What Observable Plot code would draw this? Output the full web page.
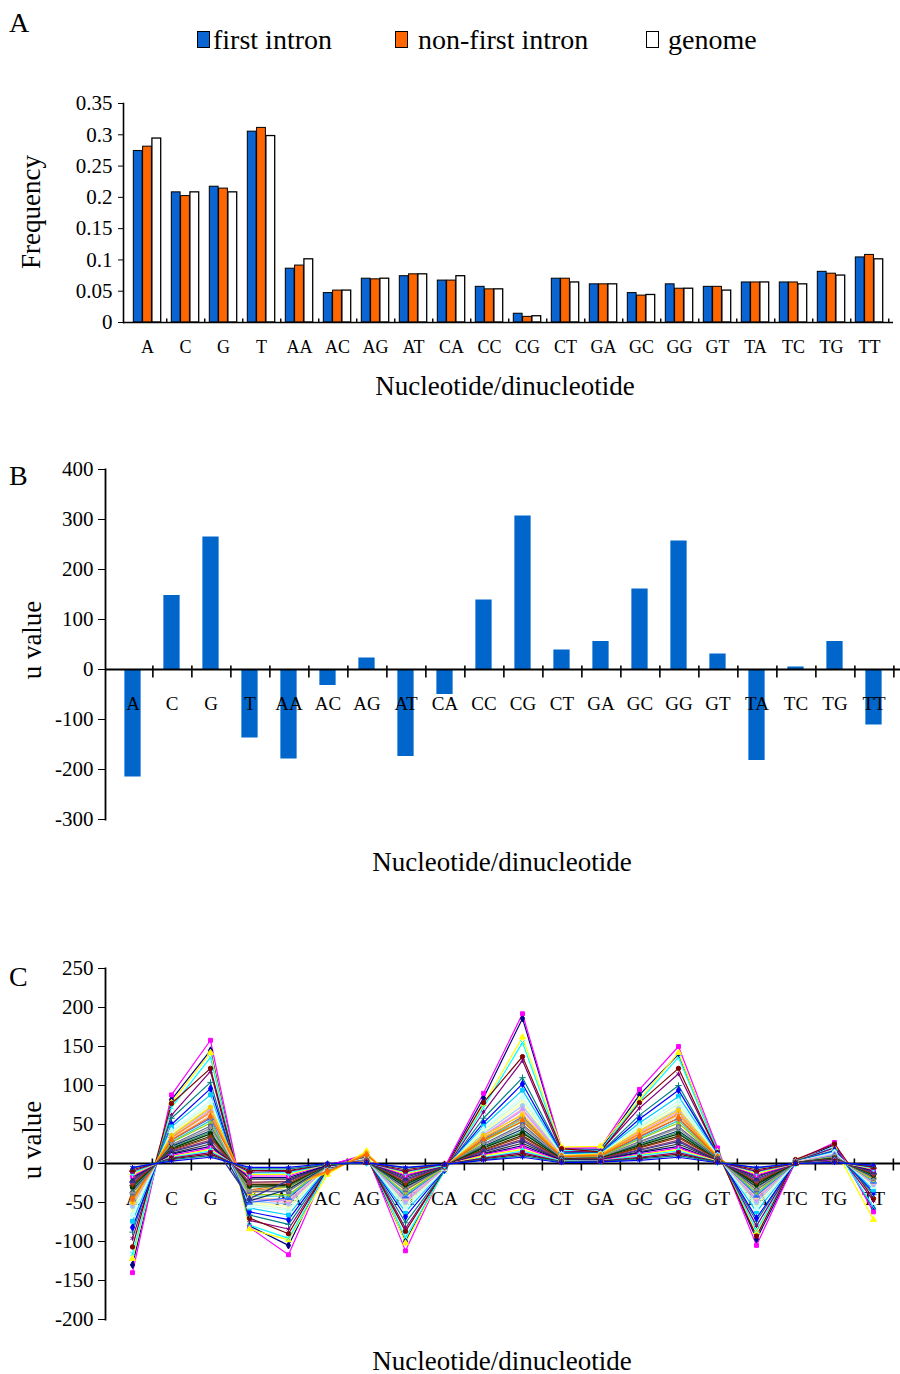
<!DOCTYPE html>
<html><head><meta charset="utf-8">
<script src="https://cdn.jsdelivr.net/npm/d3@7"></script>
<script src="https://cdn.jsdelivr.net/npm/@observablehq/plot@0.6"></script>
<style>
body{margin:0;background:#fff;}
#root{position:relative;width:900px;height:1374px;font-family:'Liberation Serif','Times New Roman',serif;color:#000;overflow:hidden;background:#fff;}
.abs{position:absolute;white-space:nowrap;line-height:1;}
.c{transform:translate(-50%,-50%);}
.r{transform:translate(-50%,-50%) rotate(-90deg);}
.panel{position:absolute;left:0;}
.sw{position:absolute;width:13px;height:17px;border:1.5px solid #000;box-sizing:border-box;}
</style></head><body><div id="root"></div><script>
// ---------- data ----------
const categories = ["A","C","G","T","AA","AC","AG","AT","CA","CC","CG","CT","GA","GC","GG","GT","TA","TC","TG","TT"];
const seriesA = ["first intron","non-first intron","genome"];
const freqFirst    = [0.274,0.208,0.217,0.305,0.086,0.047,0.070,0.074,0.067,0.057,0.014,0.070,0.061,0.047,0.061,0.057,0.064,0.064,0.081,0.104];
const freqNonFirst = [0.281,0.202,0.214,0.311,0.091,0.051,0.069,0.077,0.067,0.053,0.009,0.070,0.061,0.043,0.054,0.057,0.064,0.064,0.078,0.108];
const freqGenome   = [0.294,0.208,0.208,0.298,0.101,0.051,0.070,0.077,0.074,0.053,0.010,0.064,0.061,0.044,0.054,0.051,0.064,0.061,0.075,0.101];
const ticksA = [0,0.05,0.1,0.15,0.2,0.25,0.3,0.35];

const uValues = [-215,148,265,-137,-179,-32,23,-174,-50,139,307,39,56,161,257,31,-182,5,56,-111];
const ticksB = [-300,-200,-100,0,100,200,300,400];

const ticksC = [-200,-150,-100,-50,0,50,100,150,200,250];
const c01 = [-130,82,145,-80,-105,-2,10,-100,-6,84,186,19,18,88,140,17,-97,2,24,-58];
const c02 = [-140,88,158,-82,-117,-3,12,-112,-5,90,192,20,20,95,150,20,-105,3,27,-62];
const c03 = [-122,78,142,-84,-98,-14,16,-102,-8,76,162,21,22,82,142,15,-88,4,20,-72];
const c04 = [-116,72,136,-79,-96,-9,11,-95,-10,72,155,17,17,80,136,16,-86,3,21,-56];
const c05 = [-96,62,118,-73,-84,-7,9,-83,-9,66,132,15,16,71,115,14,-80,3,20,-48];
const c06 = [-107,77,122,-70,-90,-6,8,-87,-8,78,137,19,15,78,122,14,-93,5,25,-45];
const c07 = [-88,58,104,-66,-78,-6,8,-76,-9,58,110,14,14,62,100,12,-74,3,17,-40];
const c08 = [-82,50,96,-62,-72,-5,7,-68,-8,52,102,13,13,57,94,12,-70,2,16,-37];
const c09 = [-74,47,88,-57,-66,-5,6,-62,-7,48,94,12,13,52,86,11,-62,2,15,-34];
const c10 = [-66,42,80,-55,-60,-4,6,-58,-7,44,86,11,12,48,80,10,-58,2,14,-30];
const c11 = [-62,40,76,-52,-58,-4,6,-55,-6,42,82,11,12,46,76,10,-55,2,13,-29];
const c12 = [-58,38,73,-50,-55,-5,7,-52,-6,40,78,10,11,44,72,10,-52,2,12,-28];
const c13 = [-55,36,70,-48,-52,-4,5,-50,-6,38,74,10,11,42,70,9,-50,2,12,-27];
const c14 = [-52,34,68,-46,-50,-4,5,-48,-6,36,70,10,10,40,66,9,-47,2,11,-26];
const c15 = [-50,33,65,-45,-48,-4,5,-46,-5,35,68,9,10,38,64,9,-45,2,11,-25];
const c16 = [-48,31,62,-44,-46,-4,5,-44,-5,33,64,9,10,36,61,8,-43,2,10,-24];
const c17 = [-46,30,58,-50,-44,-3,5,-42,-5,31,60,9,9,34,58,8,-41,1,10,-23];
const c18 = [-44,28,55,-42,-42,-3,4,-40,-5,30,57,8,9,32,55,8,-39,1,9,-22];
const c19 = [-42,27,52,-40,-40,-3,4,-38,-5,28,54,8,9,31,52,7,-37,1,9,-21];
const c20 = [-50,36,72,-38,-30,-12,14,-35,-4,36,62,10,12,42,68,9,-30,1,8,-20];
const c21 = [-48,33,66,-36,-28,-11,12,-32,-4,33,58,9,11,38,63,8,-28,1,8,-18];
const c22 = [-45,30,60,-34,-26,-10,11,-30,-4,30,54,9,10,35,58,8,-26,1,7,-17];
const c23 = [-38,24,48,-36,-36,-3,4,-34,-4,25,50,7,8,28,47,7,-34,1,8,-19];
const c24 = [-36,23,45,-34,-34,-3,4,-32,-4,24,47,7,8,27,45,6,-32,1,8,-18];
const c25 = [-34,22,42,-48,-33,-3,3,-30,-4,22,44,6,7,25,42,6,-30,1,7,-17];
const c26 = [-32,20,40,-30,-30,-2,3,-28,-3,21,41,6,7,24,40,6,-28,1,7,-16];
const c27 = [-30,19,38,-29,-28,-2,3,-27,-3,20,39,6,7,23,38,5,-27,1,7,-15];
const c28 = [-28,18,35,-27,-27,-2,3,-25,-3,18,36,5,6,21,35,5,-25,1,6,-14];
const c29 = [-26,17,33,-25,-25,-2,3,-24,-3,17,34,5,6,20,33,5,-23,1,6,-13];
const c30 = [-24,16,30,-24,-23,-2,3,-22,-3,16,31,5,6,18,30,4,-22,1,5,-12];
const c31 = [-22,15,28,-45,-22,-2,2,-20,-3,15,29,4,5,17,28,4,-20,1,5,-11];
const c32 = [-20,13,25,-20,-20,-2,2,-18,-2,13,26,4,5,15,25,4,-18,1,5,-10];
const c33 = [-18,12,22,-18,-18,-2,2,-16,-2,12,23,4,4,14,22,3,-16,0,4,-9];
const c34 = [-16,10,20,-16,-16,-1,2,-15,-2,11,21,3,4,12,20,3,-15,0,4,-8];
const c35 = [-14,9,18,-14,-14,-1,2,-13,-2,10,18,3,3,11,18,3,-13,0,3,-7];
const c36 = [-12,8,16,-12,-12,-1,1,-11,-2,8,16,3,3,10,16,2,-11,0,3,-6];
const c37 = [-10,7,14,-11,-10,-1,1,-10,-1,7,14,2,3,8,14,2,-10,0,3,-5];
const c38 = [-8,6,12,-9,-9,-1,1,-8,-1,6,12,2,2,7,12,2,-8,0,2,-4];
const c39 = [-6,5,10,-7,-7,-1,1,-6,-1,5,10,2,2,6,10,2,-6,0,2,-3];
const c40 = [-5,3,8,-5,-5,0,1,-5,-1,4,8,1,2,4,8,1,-5,0,1,-2];
const seriesC = [c01,c02,c03,c04,c05,c06,c07,c08,c09,c10,c11,c12,c13,c14,c15,c16,c17,c18,c19,c20,
                 c21,c22,c23,c24,c25,c26,c27,c28,c29,c30,c31,c32,c33,c34,c35,c36,c37,c38,c39,c40];

// ---------- styles ----------
const BLUE = "#0A64D2", ORANGE = "#FF6600";
const paletteC = ["#000080","#FF00FF","#FFFF00","#00FFFF","#800080","#800000","#008080","#0000FF",
  "#00CCFF","#CCFFFF","#CCFFCC","#FFFF99","#99CCFF","#FF99CC","#CC99FF","#FFCC99","#3366FF","#33CCCC",
  "#99CC00","#FFCC00","#FF9900","#FF6600","#666699","#969696","#003366","#339966","#003300","#333300",
  "#993300","#993366","#333399","#333333","#000080","#FF00FF","#FFFF00","#00FFFF","#800080","#800000","#008080","#0000FF"];
const symbolCycle = ["diamond","square","triangle","times","asterisk","circle","plus"];
const W = 900;
const font = "'Liberation Serif','Times New Roman',serif";
const baseStyle = {fontFamily: font, fontSize: "21px", color: "#000", background: "transparent", overflow: "visible"};
const plainFormat = d => String(d);
function vtick(top, bottom){ return {draw(ctx){ ctx.moveTo(0, top); ctx.lineTo(0, bottom); }}; }

const root = document.getElementById("root");
function addText(txt, x, y, size, cls, extra){
  const d = document.createElement("div");
  d.className = "abs " + (cls||"");
  d.style.left = x + "px"; d.style.top = y + "px"; d.style.fontSize = size + "px";
  if (extra) Object.assign(d.style, extra);
  d.textContent = txt; root.appendChild(d); return d;
}
function addPanel(svg, top){ svg.classList.add("panel"); svg.style.top = top + "px"; root.appendChild(svg); }

// ---------- Panel A ----------
const mLA = 123, mRA = 7;
const stepA = (W - mLA - mRA) / categories.length;
const barW = 9.3;
const insA = (stepA - barW) / 2;
const rowsA = categories.map((c, i) => ({cat: c, first: freqFirst[i], non: freqNonFirst[i], gen: freqGenome[i]}));
const plotA = Plot.plot({
  width: W, height: 277, marginTop: 18, marginBottom: 40, marginLeft: mLA, marginRight: mRA,
  style: baseStyle,
  x: {type: "band", domain: categories, padding: 0, axis: null},
  y: {domain: [0, 0.35], ticks: ticksA, tickFormat: plainFormat, tickSize: 5, tickPadding: 6, label: null},
  marks: [
    Plot.barY(rowsA, {x: "cat", y: "first", fill: BLUE, stroke: "#000", strokeWidth: 1, insetLeft: insA, insetRight: insA, dx: -barW}),
    Plot.barY(rowsA, {x: "cat", y: "non", fill: ORANGE, stroke: "#000", strokeWidth: 1, insetLeft: insA, insetRight: insA}),
    Plot.barY(rowsA, {x: "cat", y: "gen", fill: "#fff", stroke: "#000", strokeWidth: 1.3, insetLeft: insA, insetRight: insA, dx: barW}),
    Plot.ruleY([0], {stroke: "#000", strokeWidth: 1.6}),
    Plot.frame({anchor: "left", stroke: "#000", strokeWidth: 1.6}),
    Plot.dot(categories, {x: d => d, y: 0, symbol: vtick(-4, 0), stroke: "#000", strokeWidth: 1.4, dx: stepA / 2}),
    Plot.text(categories, {x: d => d, y: 0, dy: 25, text: d => d, fontSize: 18})
  ]
});
addPanel(plotA, 85);

// ---------- Panel B ----------
const mLB = 105, mRB = 0;
const stepB = (W - mLB - mRB) / categories.length;
const insB = (stepB - 17) / 2;
const rowsB = categories.map((c, i) => ({cat: c, u: uValues[i]}));
const plotB = Plot.plot({
  width: W, height: 384, marginTop: 14, marginBottom: 20, marginLeft: mLB, marginRight: mRB,
  style: baseStyle,
  x: {type: "band", domain: categories, padding: 0, axis: null},
  y: {domain: [-300, 400], ticks: ticksB, tickFormat: plainFormat, tickSize: 7, tickPadding: 5, label: null},
  marks: [
    Plot.barY(rowsB, {x: "cat", y: "u", fill: "#0066CC", insetLeft: insB, insetRight: insB}),
    Plot.ruleY([0], {stroke: "#000", strokeWidth: 1.8}),
    Plot.frame({anchor: "left", stroke: "#000", strokeWidth: 1.8}),
    Plot.dot(categories, {x: d => d, y: 0, symbol: vtick(-4, 8), stroke: "#000", strokeWidth: 1.6, dx: stepB / 2}),
    Plot.text(categories, {x: d => d, y: 0, dy: 34, text: d => d, fontSize: 19})
  ]
});
addPanel(plotB, 455);

// ---------- Panel C ----------
const seriesNames = seriesC.map((_, k) => "s" + (k + 1));
const rowsC = seriesC.flatMap((vals, k) => vals.map((u, i) => ({series: seriesNames[k], cat: categories[i], u})));
const plotC = Plot.plot({
  width: W, height: 384, marginTop: 13, marginBottom: 20, marginLeft: mLB, marginRight: mRB,
  style: baseStyle,
  x: {type: "point", domain: categories, padding: 0.5, axis: null},
  y: {domain: [-200, 250], ticks: ticksC, tickFormat: plainFormat, tickSize: 7, tickPadding: 5, label: null},
  color: {domain: seriesNames, range: paletteC},
  symbol: {domain: seriesNames, range: seriesNames.map((_, k) => symbolCycle[k % symbolCycle.length])},
  marks: [
    Plot.text(categories, {x: d => d, y: 0, dy: 35, text: d => d, fontSize: 19}),
    Plot.ruleY([0], {stroke: "#000", strokeWidth: 1.8}),
    Plot.frame({anchor: "left", stroke: "#000", strokeWidth: 1.8}),
    Plot.dot(categories, {x: d => d, y: 0, symbol: vtick(-5, 7), stroke: "#000", strokeWidth: 1.6, dx: stepB / 2}),
    Plot.line(rowsC, {x: "cat", y: "u", z: "series", stroke: "series", strokeWidth: 1.2}),
    Plot.dot(rowsC, {x: "cat", y: "u", symbol: "series", fill: "series", stroke: "series", r: 2.2, strokeWidth: 1})
  ]
});
addPanel(plotC, 955);

// ---------- HTML text ----------
addText("A", 9, 9, 28);
addText("B", 9, 462, 28);
addText("C", 9, 963, 28);

const legendItems = [
  {label: seriesA[0], fill: BLUE, sx: 197, tx: 213},
  {label: seriesA[1], fill: ORANGE, sx: 395, tx: 418},
  {label: seriesA[2], fill: "#fff", sx: 646, tx: 668}
];
legendItems.forEach(it => {
  const s = document.createElement("div");
  s.className = "sw"; s.style.left = it.sx + "px"; s.style.top = "31px"; s.style.background = it.fill;
  root.appendChild(s);
  addText(it.label, it.tx, 26, 28);
});

addText("Frequency", 31, 212, 27, "r");
addText("Nucleotide/dinucleotide", 505, 386, 27, "c");
addText("u value", 32, 640, 27, "r");
addText("Nucleotide/dinucleotide", 502, 862, 27, "c");
addText("u value", 32, 1140, 27, "r");
addText("Nucleotide/dinucleotide", 502, 1361, 27, "c");
</script></body></html>
